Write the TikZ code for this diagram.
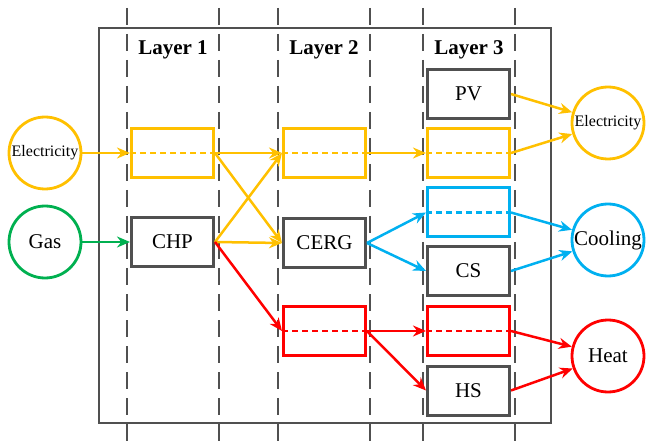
\documentclass[tikz,border=0pt]{standalone}
\usepackage{fontspec}
\setmainfont{Liberation Serif}
\usetikzlibrary{arrows.meta}
\definecolor{cy}{HTML}{FFC000}
\definecolor{cg}{HTML}{00B050}
\definecolor{cb}{HTML}{00B0F0}
\definecolor{cr}{HTML}{FF0000}
\definecolor{gr}{HTML}{505050}
\tikzset{
  unit/.style={draw=gr, line width=3pt, minimum width=82pt, minimum height=49pt, inner sep=0pt, font=\fontsize{21}{21}\selectfont},
  ubox/.style={unit, draw=#1},
  term/.style={circle, draw=#1, line width=2.8pt, minimum size=72pt, inner sep=0pt, font=\fontsize{21}{21}\selectfont},
  conn/.style={draw=#1, line width=2.5pt, -{Stealth[length=13pt,width=11pt]}},
  mid/.style={draw=#1, line width=2.5pt, dash pattern=on 6pt off 4pt},
  layerline/.style={draw=gr, line width=2.5pt, dash pattern=on 17pt off 9pt, dash phase=-8pt},
  lab/.style={font=\bfseries\fontsize{21}{21}\selectfont}
}
\begin{document}
\begin{tikzpicture}[x=1pt,y=-1pt]
\useasboundingbox (0,0) rectangle (646,441);
% frame
\draw[gr, line width=2.5pt] (99,28) rectangle (551,423);
% layer lines
\foreach \xx in {127,219,278,370,423,515}
  \draw[layerline] (\xx,0) -- (\xx,441);
% labels
\node[lab] (l1) at (173,50) {Layer 1};
\node[lab] (l2) at (324,50) {Layer 2};
\node[lab] (l3) at (469,50) {Layer 3};
% terminals
\node[term=cy, font=\fontsize{16}{16}\selectfont] (ein) at (45,153) {Electricity};
\node[term=cg] (gas) at (45,242) {Gas};
\node[term=cy, font=\fontsize{16}{16}\selectfont] (eout) at (608,123) {Electricity};
\node[term=cb] (cool) at (608,240) {Cooling};
\node[term=cr] (heat) at (608,356) {Heat};
% layer 1
\node[ubox=cy] (e1) at (172.5,153) {};
\node[unit] (chp) at (172.5,242) {CHP};
% layer 2
\node[ubox=cy] (e2) at (324.5,153) {};
\node[unit] (cerg) at (324.5,243) {CERG};
\node[ubox=cr] (h2) at (324.5,331) {};
% layer 3
\node[unit] (pv) at (468.5,94) {PV};
\node[ubox=cy] (e3) at (468.5,153) {};
\node[ubox=cb] (c3) at (468.5,212.5) {};
\node[unit] (cs) at (468.5,271) {CS};
\node[ubox=cr] (h3) at (468.5,331) {};
\node[unit] (hs) at (468.5,390.5) {HS};
% mid dashed lines
\draw[mid=cy] (e1.west) -- (e1.east);
\draw[mid=cy] (e2.west) -- (e2.east);
\draw[mid=cy] (e3.west) -- (e3.east);
\draw[mid=cb] (c3.west) -- (c3.east);
\draw[mid=cr] (h2.west) -- (h2.east);
\draw[mid=cr] (h3.west) -- (h3.east);
% electricity
\draw[conn=cy] (ein.east) -- (e1.west);
\draw[conn=cy] (e1.east) -- (e2.west);
\draw[conn=cy] (e1.east) -- (cerg.west);
\draw[conn=cy] (e2.east) -- (e3.west);
\draw[conn=cy] (e3.east) -- (eout);
\draw[conn=cy] (pv.east) -- (eout);
% gas
\draw[conn=cg] (gas.east) -- (chp.west);
\draw[conn=cy] (chp.east) -- (e2.west);
\draw[conn=cy] (chp.east) -- (cerg.west);
% heat
\draw[conn=cr] (chp.east) -- (h2.west);
\draw[conn=cr] (h2.east) -- (h3.west);
\draw[conn=cr] (h2.east) -- (hs.west);
\draw[conn=cr] (h3.east) -- (heat);
\draw[conn=cr] (hs.east) -- (heat);
% cooling
\draw[conn=cb] (cerg.east) -- (c3.west);
\draw[conn=cb] (cerg.east) -- (cs.west);
\draw[conn=cb] (c3.east) -- (cool);
\draw[conn=cb] (cs.east) -- (cool);
\end{tikzpicture}
\end{document}
